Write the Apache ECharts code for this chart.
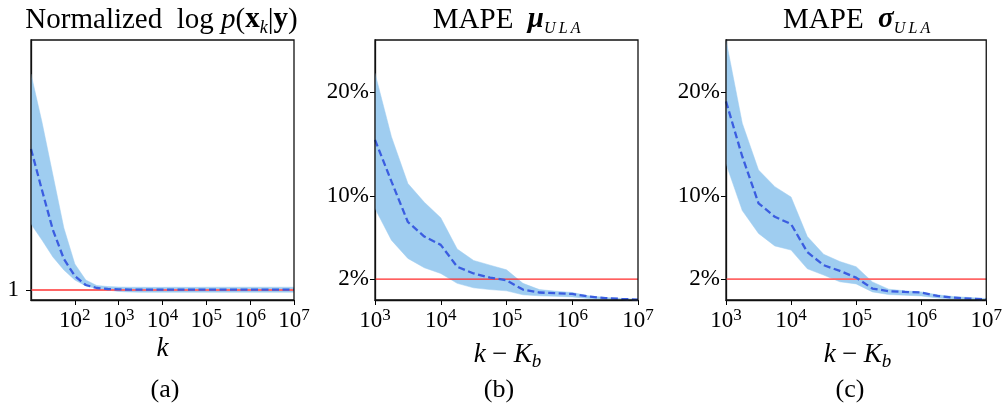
<!DOCTYPE html>
<html><head><meta charset="utf-8">
<script src="https://cdn.jsdelivr.net/npm/echarts@6/dist/echarts.min.js"></script>
<style>html,body{margin:0;padding:0;background:#fff}#c{width:1005px;height:411px}</style>
</head><body><div id="c"></div>
<script>
// ---- data (x given as log10 exponents) ----
const aExp = [1,1.25,1.5,1.75,2,2.25,2.5,2.75,3,3.25,3.5,3.75,4,4.25,4.5,4.75,5,5.25,5.5,5.75,6,6.25,6.5,6.75,7];
const aMean  = [2.41,2.00,1.60,1.31,1.14,1.05,1.02,1.010,1.006,1.004,1.004,1.003,1.003,1.003,1.003,1.003,1.003,1.003,1.003,1.003,1.003,1.003,1.003,1.003,1.003];
const aUpper = [3.16,2.68,2.15,1.62,1.26,1.10,1.045,1.035,1.030,1.028,1.028,1.027,1.027,1.028,1.027,1.027,1.028,1.028,1.028,1.028,1.028,1.028,1.028,1.028,1.028];
const aLower = [1.66,1.50,1.33,1.20,1.10,1.04,1.015,1.000,0.985,0.980,0.978,0.978,0.978,0.978,0.978,0.978,0.978,0.978,0.978,0.978,0.978,0.978,0.978,0.978,0.978];

const bcExp = [3,3.25,3.5,3.75,4,4.25,4.5,4.75,5,5.25,5.5,5.75,6,6.25,6.5,6.75,7];
const bUpper = [21.8,15.7,11.2,9.4,7.9,4.9,3.8,3.35,2.9,1.6,1.0,0.85,0.72,0.4,0.25,0.15,0.08];
const bMean  = [15.4,11.4,7.5,6.1,5.3,3.2,2.55,2.15,1.9,1.0,0.72,0.65,0.58,0.33,0.18,0.1,0.03];
const bLower = [8.8,5.75,4.0,3.1,2.55,1.6,1.17,1.0,0.88,0.5,0.4,0.35,0.3,0.15,0.08,0.04,0.0];

const cUpper = [25.0,17.0,12.5,10.9,9.9,6.1,4.4,3.7,3.2,1.74,1.04,0.88,0.78,0.5,0.33,0.24,0.14];
const cMean  = [19.1,13.8,9.3,8.0,7.3,4.6,3.35,2.8,2.15,1.1,0.85,0.78,0.72,0.39,0.23,0.13,0.05];
const cLower = [13.1,8.6,6.4,5.2,4.8,3.0,2.4,1.75,1.55,0.78,0.52,0.46,0.39,0.2,0.1,0.03,0.0];

const aXRange = [10, 1e7];
const bcXRange = [1e3, 1e7];
const aYRange = [0.9, 3.5];
const bcYRange = [0, 25];
const aYTicks = [1];
const bcYTicks = [2, 10, 20];
const aRef = 1;
const bcRef = 2;

// ---- rendering ----
const FONT = 'Liberation Serif';
const BAND = '#9fcdf0', MEAN = '#3b5de0';
const chart = echarts.init(document.getElementById('c'), null, {renderer: 'canvas'});

function pts(exps, vals) { return exps.map((e, i) => [Math.pow(10, e), vals[i]]); }

const grids = [
  {left: 31, top: 40, width: 263, height: 260},
  {left: 375, top: 40, width: 263, height: 260},
  {left: 726, top: 40, width: 262, height: 260}
].map(g => Object.assign(g, {show: true, borderColor: '#111', borderWidth: 1.3, backgroundColor: 'transparent', containLabel: false, z: 5}));

const xRich = {
  b: {fontFamily: FONT, fontSize: 23, color: '#000', lineHeight: 28},
  s: {fontFamily: FONT, fontSize: 17, color: '#000', lineHeight: 20, verticalAlign: 'top'}
};
function xAxis(i, range, hideMin) {
  return {
    type: 'log', logBase: 10, gridIndex: i, min: range[0], max: range[1],
    axisLine: {show: true, lineStyle: {color: '#111', width: 1.3}},
    axisTick: {show: true, inside: false, length: 5, lineStyle: {color: '#000', width: 1}},
    minorTick: {show: false}, splitLine: {show: false},
    axisLabel: {
      margin: 7, showMinLabel: !hideMin, rich: xRich,
      formatter: v => '{b|10}{s|' + Math.round(Math.log10(v)) + '}'
    }
  };
}
function yAxis(i, range, ticks, pct, margin) {
  return {
    type: 'value', gridIndex: i, min: range[0], max: range[1],
    axisLine: {show: true, lineStyle: {color: '#111', width: 1.3}},
    axisTick: {show: true, inside: false, length: 5, customValues: ticks, lineStyle: {color: '#000', width: 1}},
    splitLine: {show: false},
    axisLabel: {
      margin: margin, customValues: ticks, fontFamily: FONT, fontSize: 23, color: '#000',
      formatter: v => pct ? v + '%' : String(v)
    }
  };
}

function panelSeries(i, exps, upper, mean, lower, xRange, ref, redColor, redWidth) {
  const band = exps.map((e, k) => [Math.pow(10, e), lower[k], upper[k]]);
  return [
    {type: 'custom', xAxisIndex: i, yAxisIndex: i, data: band, silent: true, z: 2, clip: true,
     encode: {x: 0, y: [1, 2]},
     renderItem: (params, api) => {
       if (params.dataIndex !== 0) return null;
       const top = band.map(d => api.coord([d[0], d[2]]));
       const bot = band.map(d => api.coord([d[0], d[1]])).reverse();
       return {type: 'polygon', shape: {points: top.concat(bot)}, style: {fill: BAND, stroke: BAND, lineWidth: 0.5}};
     }},
    {type: 'line', xAxisIndex: i, yAxisIndex: i, data: [[xRange[0], ref], [xRange[1], ref]],
     symbol: 'none', silent: true, z: 3, lineStyle: {color: redColor, width: redWidth}},
    {type: 'line', xAxisIndex: i, yAxisIndex: i, data: pts(exps, mean), symbol: 'none', silent: true, z: 4,
     lineStyle: {color: MEAN, width: 2.3, type: [7, 3.5]}}
  ];
}

const tRich = {
  n: {fontFamily: FONT, fontSize: 29, color: '#000', lineHeight: 34},
  i: {fontFamily: FONT, fontSize: 29, fontStyle: 'italic', color: '#000', lineHeight: 34},
  bx: {fontFamily: FONT, fontSize: 29, fontWeight: 'bold', color: '#000', lineHeight: 34},
  bi: {fontFamily: FONT, fontSize: 29, fontWeight: 'bold', fontStyle: 'italic', color: '#000', lineHeight: 34},
  sub: {fontFamily: FONT, fontSize: 18, fontStyle: 'italic', color: '#000', lineHeight: 18, verticalAlign: 'bottom'},
  sub2: {fontFamily: FONT, fontSize: 16, fontStyle: 'italic', color: '#000', lineHeight: 16, verticalAlign: 'bottom'}
};
const lRich = {
  n: {fontFamily: FONT, fontSize: 27, color: '#000', lineHeight: 32},
  i: {fontFamily: FONT, fontSize: 27, fontStyle: 'italic', color: '#000', lineHeight: 32},
  sub: {fontFamily: FONT, fontSize: 19, fontStyle: 'italic', color: '#000', lineHeight: 19, verticalAlign: 'bottom'}
};
const cRich = {
  n: {fontFamily: FONT, fontSize: 26, color: '#000', lineHeight: 30}
};
function txt(x, y, text, rich) {
  return {type: 'text', x: x, y: y, silent: true,
    style: {text: text, rich: rich, align: 'center', verticalAlign: 'middle', fill: '#000', fontFamily: FONT, fontSize: 26}};
}

chart.setOption({
  animation: false,
  backgroundColor: '#fff',
  grid: grids,
  xAxis: [xAxis(0, aXRange, true), xAxis(1, bcXRange, false), xAxis(2, bcXRange, false)],
  yAxis: [yAxis(0, aYRange, aYTicks, false, 12), yAxis(1, bcYRange, bcYTicks, true, 6), yAxis(2, bcYRange, bcYTicks, true, 6)],
  series: [].concat(
    panelSeries(0, aExp, aUpper, aMean, aLower, aXRange, aRef, '#ff6666', 1.8),
    panelSeries(1, bcExp, bUpper, bMean, bLower, bcXRange, bcRef, '#ff2a2a', 1.3),
    panelSeries(2, bcExp, cUpper, cMean, cLower, bcXRange, bcRef, '#ff6666', 1.8)
  ),
  graphic: [
    txt(161.5, 20, '{n|Normalized  log }{i|p}{n|(}{bx|x}{sub|k}{n||}{bx|y}{n|)}', tRich),
    txt(506.7, 20, '{n|MAPE  }{bi|μ}{sub2|U\u2009L\u2009A}', tRich),
    txt(856.7, 20, '{n|MAPE  }{bi|σ}{sub2|U\u2009L\u2009A}', tRich),
    txt(162.5, 349, '{i|k}', lRich),
    txt(507.5, 355, '{i|k} {n|−} {i|K}{sub|b}', lRich),
    txt(857.5, 355, '{i|k} {n|−} {i|K}{sub|b}', lRich),
    txt(165, 390, '{n|(a)}', cRich),
    txt(499, 390, '{n|(b)}', cRich),
    txt(850, 390, '{n|(c)}', cRich)
  ]
});
</script></body></html>
